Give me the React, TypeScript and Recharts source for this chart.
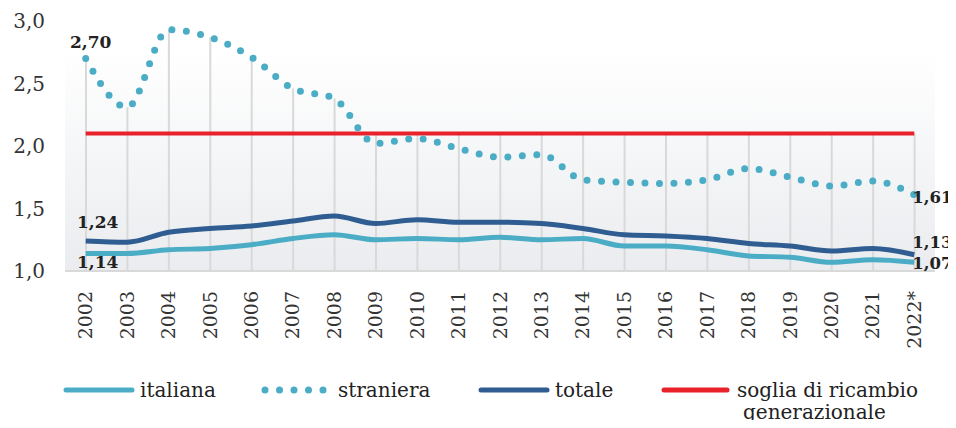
import { ComposedChart, Line, Bar, XAxis, YAxis, CartesianGrid, LabelList } from 'recharts';

const years = [
  '2002', '2003', '2004', '2005', '2006', '2007', '2008', '2009', '2010', '2011', '2012',
  '2013', '2014', '2015', '2016', '2017', '2018', '2019', '2020', '2021', '2022*',
];
const italiana = [1.14, 1.14, 1.17, 1.18, 1.21, 1.26, 1.29, 1.25, 1.26, 1.25, 1.27, 1.25, 1.26, 1.2, 1.2, 1.17, 1.12, 1.11, 1.07, 1.09, 1.07];
const straniera = [2.7, 2.31, 2.93, 2.87, 2.71, 2.46, 2.38, 2.02, 2.06, 1.98, 1.91, 1.93, 1.73, 1.71, 1.7, 1.73, 1.82, 1.75, 1.68, 1.72, 1.61];
const totale = [1.24, 1.23, 1.31, 1.34, 1.36, 1.4, 1.44, 1.38, 1.41, 1.39, 1.39, 1.38, 1.34, 1.29, 1.28, 1.26, 1.22, 1.2, 1.16, 1.18, 1.13];
const SOGLIA = 2.1;
const yTicks = [1, 1.5, 2, 2.5, 3];

const C_ITA = '#4bacc6';
const C_TOT = '#2f5d91';
const C_SOGLIA = '#e8212b';
const C_GUIDE = '#d9d9d9';
const SERIF = '"DejaVu Serif", serif';

const data = years.map((year, i) => ({
  year,
  italiana: italiana[i],
  straniera: straniera[i],
  totale: totale[i],
  soglia: SOGLIA,
  // drop line up to the higher of straniera / soglia
  guida: Math.max(straniera[i], SOGLIA),
}));

const last = years.length - 1;
const fmt2 = (v: number) => v.toFixed(2).replace('.', ',');

// label only at first / last point
const endLabel = (dx0: number, dy0: number, dxN: number, dyN: number) => (props: any) => {
  const { x, y, value, index } = props;
  if (index !== 0 && index !== last) return null;
  const first = index === 0;
  return (
    <text
      x={x + (first ? dx0 : dxN)}
      y={y + (first ? dy0 : dyN)}
      textAnchor={first ? 'middle' : 'start'}
      fontFamily={SERIF}
      fontWeight="bold"
      fontSize={first ? 17 : 16.5}
      fill="#222"
    >
      {fmt2(value)}
    </text>
  );
};

const YearTick = ({ x, y, payload }: any) => (
  <text
    x={x}
    y={y + 12}
    transform={`rotate(-90, ${x}, ${y + 12})`}
    textAnchor="end"
    dy="0.35em"
    fontFamily={SERIF}
    fontSize={19}
    fill="#333"
  >
    {payload.value}
  </text>
);

function Legenda() {
  const dots = [0, 1, 2, 3, 4];
  const txt = { fontFamily: SERIF, fontSize: 20, fill: '#222' };
  return (
    <svg width={956} height={428} style={{ position: 'absolute', left: 0, top: 0, pointerEvents: 'none' }}>
      <line x1={66} x2={132} y1={390} y2={390} stroke={C_ITA} strokeWidth={5} strokeLinecap="round" />
      <text x={140} y={397} {...txt}>italiana</text>
      {dots.map((d) => (
        <circle key={d} cx={265 + d * 14.5} cy={390} r={3.5} fill={C_ITA} />
      ))}
      <text x={338} y={397} {...txt}>straniera</text>
      <line x1={481} x2={547} y1={390} y2={390} stroke={C_TOT} strokeWidth={5} strokeLinecap="round" />
      <text x={555} y={397} {...txt}>totale</text>
      <line x1={664} x2={727} y1={390} y2={390} stroke={C_SOGLIA} strokeWidth={5} strokeLinecap="round" />
      <text x={737} y={397} {...txt}>soglia di ricambio</text>
      <text x={743} y={419} {...txt}>generazionale</text>
    </svg>
  );
}

export default function App() {
  return (
    <div style={{ position: 'relative', width: 956, height: 428, margin: -8, background: '#fff' }}>
      <ComposedChart width={956} height={428} data={data} margin={{ top: 21, right: 21, left: 0, bottom: 0 }}>
        <defs>
          <linearGradient id="bgGrad" x1="0" y1="0" x2="0" y2="1">
            <stop offset="0" stopColor="#ffffff" />
            <stop offset="0.12" stopColor="#ffffff" />
            <stop offset="1" stopColor="#eaecef" />
          </linearGradient>
        </defs>
        <CartesianGrid fill="url(#bgGrad)" horizontal={false} vertical={false} />
        <XAxis
          dataKey="year"
          height={157}
          interval={0}
          tickLine={false}
          axisLine={{ stroke: C_GUIDE, strokeWidth: 2 }}
          tick={<YearTick />}
        />
        <YAxis
          width={65}
          domain={[1, 3]}
          ticks={yTicks}
          axisLine={false}
          tickLine={false}
          tickMargin={14}
          tickFormatter={(v: number) => v.toFixed(1).replace('.', ',')}
          tick={{ fontFamily: SERIF, fontSize: 20, fill: '#333' }}
        />
        <Bar dataKey="guida" barSize={2} fill={C_GUIDE} isAnimationActive={false} />
        <Line dataKey="soglia" type="linear" stroke={C_SOGLIA} strokeWidth={4} dot={false} isAnimationActive={false} />
        <Line
          dataKey="italiana"
          type="monotone"
          stroke={C_ITA}
          strokeWidth={5}
          dot={false}
          isAnimationActive={false}
        >
          <LabelList dataKey="italiana" content={endLabel(12, 14, -2, 7)} />
        </Line>
        <Line
          dataKey="totale"
          type="monotone"
          stroke={C_TOT}
          strokeWidth={5}
          dot={false}
          isAnimationActive={false}
        >
          <LabelList dataKey="totale" content={endLabel(12, -13, -2, -7)} />
        </Line>
        <Line
          dataKey="straniera"
          type="monotone"
          stroke={C_ITA}
          strokeWidth={7}
          strokeDasharray="0 14.5"
          strokeLinecap="round"
          dot={false}
          isAnimationActive={false}
        >
          <LabelList dataKey="straniera" content={endLabel(5, -11, -2, 8)} />
        </Line>
      </ComposedChart>
      <Legenda />
    </div>
  );
}
